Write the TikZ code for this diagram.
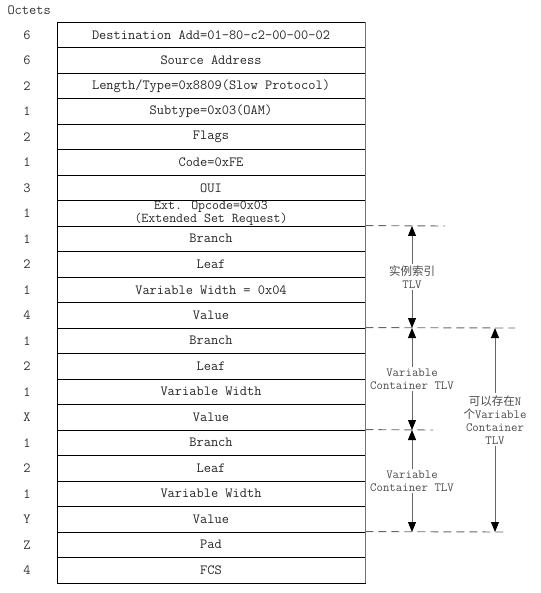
\documentclass[tikz,border=0pt]{standalone}
\usepackage{fontspec}
\newfontfamily\cjk{Noto Sans CJK SC}
\usetikzlibrary{arrows.meta}
\begin{document}
\begin{tikzpicture}[x=1pt,y=-1pt,
 row/.style={draw=black,line width=0.8pt,minimum width=308pt,minimum height=25.5pt,inner sep=0pt,align=center,font=\ttfamily\fontsize{14}{13}\selectfont,text=black!85},
 oct/.style={font=\ttfamily\fontsize{14}{13}\selectfont,text=black!80},
 dline/.style={draw=black!60,line width=0.9pt,dash pattern=on 8pt off 5pt},
 arr/.style={draw=black!60,line width=0.9pt,{Triangle[length=10pt,width=8pt,color=black]}-{Triangle[length=10pt,width=8pt,color=black]}},
 lab/.style={fill=white,align=center,font=\ttfamily\fontsize{12.5}{13}\selectfont,text=black!70,inner sep=2pt}]
\useasboundingbox (0,0) rectangle (540,593);
\node[oct,anchor=west] (octets) at (4,10) {Octets};
% rows
\node[row] (r1)  at (211,34.75)  {Destination Add=01-80-c2-00-00-02};
\node[row] (r2)  at (211,60.25)  {Source Address};
\node[row] (r3)  at (211,85.75)  {Length/Type=0x8809(Slow Protocol)};
\node[row] (r4)  at (211,111.25) {Subtype=0x03(OAM)};
\node[row] (r5)  at (211,136.75) {Flags};
\node[row] (r6)  at (211,162.25) {Code=0xFE};
\node[row] (r7)  at (211,187.75) {OUI};
\node[row,font=\ttfamily\fontsize{13.5}{12.5}\selectfont] (r8)  at (211,213.25) {Ext. Opcode=0x03\\(Extended Set Request)};
\node[row] (r9)  at (211,238.75) {Branch};
\node[row] (r10) at (211,264.25) {Leaf};
\node[row] (r11) at (211,289.75) {Variable Width = 0x04};
\node[row] (r12) at (211,315.25) {Value};
\node[row] (r13) at (211,340.75) {Branch};
\node[row] (r14) at (211,366.25) {Leaf};
\node[row] (r15) at (211,391.75) {Variable Width};
\node[row] (r16) at (211,417.25) {Value};
\node[row] (r17) at (211,442.75) {Branch};
\node[row] (r18) at (211,468.25) {Leaf};
\node[row] (r19) at (211,493.75) {Variable Width};
\node[row] (r20) at (211,519.25) {Value};
\node[row] (r21) at (211,544.75) {Pad};
\node[row] (r22) at (211,570.25) {FCS};
\draw[black!55,line width=1.1pt] (r1.north east) -- (r22.south east);
% octet counts
\node[oct] (o1)  at (27,34.75)  {6};
\node[oct] (o2)  at (27,60.25)  {6};
\node[oct] (o3)  at (27,85.75)  {2};
\node[oct] (o4)  at (27,111.25) {1};
\node[oct] (o5)  at (27,136.75) {2};
\node[oct] (o6)  at (27,162.25) {1};
\node[oct] (o7)  at (27,187.75) {3};
\node[oct] (o8)  at (27,213.25) {1};
\node[oct] (o9)  at (27,238.75) {1};
\node[oct] (o10) at (27,264.25) {2};
\node[oct] (o11) at (27,289.75) {1};
\node[oct] (o12) at (27,315.25) {4};
\node[oct] (o13) at (27,340.75) {1};
\node[oct] (o14) at (27,366.25) {2};
\node[oct] (o15) at (27,391.75) {1};
\node[oct] (o16) at (27,417.25) {X};
\node[oct] (o17) at (27,442.75) {1};
\node[oct] (o18) at (27,468.25) {2};
\node[oct] (o19) at (27,493.75) {1};
\node[oct] (o20) at (27,519.25) {Y};
\node[oct] (o21) at (27,544.75) {Z};
\node[oct] (o22) at (27,570.25) {4};
% dashed guide lines
\coordinate (d1) at (445,226);
\coordinate (d2) at (515,328);
\coordinate (d3) at (433,430);
\coordinate (d4) at (505,532);
\draw[dline] (r9.north east) -- (d1);
\draw[dline] (r13.north east) -- (d2);
\draw[dline] (r17.north east) -- (d3);
\draw[dline] (r21.north east) -- (d4);
% arrows
\coordinate (a1) at (412,226);
\coordinate (a2) at (412,328);
\coordinate (a3) at (412,430);
\coordinate (a4) at (412,532);
\coordinate (b1) at (495,328);
\coordinate (b2) at (495,532);
\draw[arr] (a1) -- node[lab] (l1) {{\cjk\fontsize{11.5}{13}\selectfont 实例索引}\\TLV} (a2);
\draw[arr] (a2) -- node[lab] (l2) {Variable\\Container TLV} (a3);
\draw[arr] (a3) -- node[lab] (l3) {Variable\\Container TLV} (a4);
\draw[arr] (b1) -- node[lab,pos=0.45] (l4) {{\cjk\fontsize{11.5}{13}\selectfont 可以存在}N\\{\cjk\fontsize{11.5}{13}\selectfont 个}Variable\\Container\\TLV} (b2);
\end{tikzpicture}
\end{document}
